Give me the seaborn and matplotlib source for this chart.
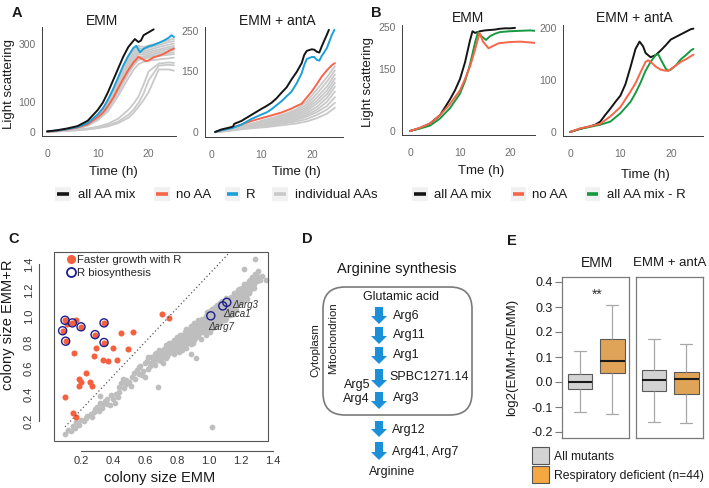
import numpy as np
import pandas as pd
import matplotlib
matplotlib.use('Agg')
import matplotlib.pyplot as plt
import seaborn as sns
from matplotlib.patches import Rectangle, FancyBboxPatch, FancyArrow
from matplotlib.lines import Line2D

# ======================= DATA =======================
TIME_TICKS = [0, 10, 20]

# ---- Panel A, EMM ----
A1_black_t = [0, 2, 4, 6, 8, 10, 11, 12, 13, 14, 15, 16, 16.8, 17.3, 18, 18.5, 19, 20, 21]
A1_black_v = [2, 6, 12, 20, 38, 75, 100, 135, 175, 215, 255, 288, 305, 315, 305, 310, 328, 338, 348]
A1_blue_t = [0, 2, 4, 6, 8, 10, 11, 12, 13, 14, 15, 16, 17, 17.6, 18.3, 19, 20, 21, 22, 23, 24, 24.5, 25]
A1_blue_v = [2, 5, 10, 17, 30, 60, 80, 110, 145, 185, 225, 258, 285, 292, 270, 282, 290, 295, 302, 310, 320, 328, 322]
A1_red_t = [0, 2, 4, 6, 8, 10, 11, 12, 13, 14, 15, 16, 17, 18, 18.5, 19.5, 20, 21, 22, 23, 24, 25]
A1_red_v = [1, 4, 9, 15, 26, 50, 65, 88, 115, 148, 180, 210, 235, 255, 250, 240, 243, 253, 258, 265, 275, 283]
A1_grey_t = [0, 2, 4, 6, 8, 10, 12, 14, 16, 17, 18, 19, 20, 22, 24, 25]
A1_grey = [
    [1, 4, 9, 16, 28, 58, 105, 178, 252, 278, 292, 288, 293, 302, 312, 316],
    [1, 4, 9, 16, 28, 56, 100, 170, 243, 270, 285, 280, 285, 295, 305, 308],
    [1, 4, 9, 15, 27, 54, 97, 163, 235, 262, 278, 274, 278, 288, 296, 300],
    [1, 4, 9, 15, 26, 52, 93, 157, 228, 255, 270, 268, 272, 280, 288, 292],
    [1, 4, 8, 15, 25, 50, 90, 152, 220, 248, 264, 262, 266, 274, 282, 286],
    [1, 4, 8, 14, 25, 48, 86, 146, 212, 240, 256, 256, 260, 268, 274, 278],
    [1, 3, 8, 14, 24, 46, 82, 140, 205, 232, 250, 252, 256, 262, 268, 270],
    [1, 3, 8, 13, 23, 44, 78, 134, 198, 225, 244, 248, 252, 258, 262, 264],
    [1, 3, 7, 12, 21, 40, 70, 122, 182, 210, 230, 238, 242, 246, 250, 252],
    [1, 3, 5, 8, 12, 18, 28, 45, 75, 95, 120, 160, 205, 232, 236, 234],
    [1, 2, 4, 6, 9, 14, 22, 35, 58, 75, 98, 130, 175, 225, 228, 226],
    [1, 2, 4, 6, 9, 13, 19, 30, 48, 64, 85, 108, 135, 212, 212, 208],
]
A1_yticks = [0, 100, 300]

# ---- Panel A, EMM + antA ----
A2_black_t = [0.8, 2, 3, 4, 4.4, 4.6, 6, 8, 10, 11, 12, 13, 14, 15, 16, 17, 18, 18.5, 19, 20, 20.5, 21, 21.5, 22, 23, 23.4]
A2_black_v = [0, 6, 9, 12, 14, 20, 27, 42, 57, 64, 72, 83, 97, 110, 130, 148, 170, 190, 200, 204, 203, 198, 196, 212, 240, 252]
A2_blue_t = [0.8, 2, 4, 6, 8, 10, 11, 12, 14, 16, 17, 18, 18.5, 19, 20, 20.5, 21, 21.5, 22, 23, 24, 24.5]
A2_blue_v = [0, 4, 9, 18, 32, 43, 48, 56, 76, 100, 120, 145, 165, 180, 185, 185, 178, 176, 188, 207, 240, 252]
A2_red_t = [0.8, 2, 4, 6, 8, 10, 12, 14, 16, 18, 19, 20, 21, 22, 23, 24, 24.6]
A2_red_v = [0, 4, 10, 18, 27, 34, 41, 48, 58, 70, 85, 100, 118, 137, 152, 165, 170]
A2_grey_t = [1, 3, 5, 7, 9, 11, 13, 15, 17, 19, 21, 23, 24.6]
A2_grey = [
    [0, 4, 10, 17, 24, 31, 38, 46, 56, 75, 104, 135, 162],
    [0, 4, 9, 16, 23, 29, 35, 43, 52, 68, 94, 124, 152],
    [0, 4, 9, 15, 21, 27, 33, 40, 48, 62, 85, 112, 142],
    [0, 4, 9, 14, 20, 25, 31, 37, 44, 57, 77, 102, 132],
    [0, 3, 8, 13, 18, 23, 28, 34, 41, 52, 70, 93, 122],
    [0, 3, 8, 12, 17, 21, 26, 31, 37, 47, 62, 84, 112],
    [0, 3, 7, 11, 15, 19, 23, 28, 33, 42, 55, 74, 100],
    [0, 3, 7, 10, 14, 17, 21, 25, 30, 38, 49, 64, 86],
    [0, 2, 6, 9, 12, 15, 18, 22, 26, 32, 42, 55, 72],
    [0, 2, 5, 8, 10, 12, 15, 18, 21, 26, 34, 45, 60],
]
A2_yticks = [0, 150, 250]

# ---- Panel B, EMM ----
B1_black_t = [0, 2, 4, 6, 8, 9, 10, 11, 12, 12.5, 13, 14, 15, 16, 17, 18, 19, 20, 21]
B1_black_v = [0, 7, 18, 38, 76, 98, 125, 165, 218, 240, 236, 240, 242, 243, 244, 246, 247, 247, 248]
B1_green_t = [0, 2, 4, 6, 8, 10, 11, 12, 13, 13.6, 14.3, 15.2, 16, 17, 18, 20, 22, 24, 25]
B1_green_v = [0, 6, 13, 30, 55, 90, 120, 160, 212, 238, 228, 219, 228, 234, 238, 240, 241, 242, 241]
B1_red_t = [0, 2, 4, 6, 8, 10, 11, 12, 13, 13.9, 14.6, 15.7, 16.5, 17.7, 20, 22, 24, 25]
B1_red_v = [0, 8, 18, 38, 65, 98, 125, 155, 195, 236, 215, 199, 204, 211, 214, 215, 213, 212]
B1_yticks = [0, 150, 250]

# ---- Panel B, EMM + antA ----
B2_black_t = [0, 2, 4, 5, 6, 7, 8, 9, 10, 11, 12, 13, 13.8, 14.5, 15, 16, 17, 18, 19, 20, 21, 22, 23, 24, 24.5]
B2_black_v = [0, 6, 11, 14, 20, 33, 45, 58, 70, 92, 125, 160, 174, 165, 152, 144, 148, 157, 167, 178, 183, 188, 193, 198, 199]
B2_green_t = [0, 2, 4, 6, 8, 10, 12, 13, 14, 15, 16, 17, 17.5, 18, 19, 19.5, 20, 21, 22, 23, 24, 24.5]
B2_green_v = [0, 6, 10, 14, 20, 36, 58, 75, 95, 118, 135, 148, 150, 140, 122, 118, 120, 128, 140, 148, 157, 160]
B2_red_t = [0, 2, 4, 6, 8, 10, 12, 13, 14, 15, 15.5, 16, 17, 18, 19, 19.5, 20, 21, 22, 23, 24, 24.5]
B2_red_v = [0, 7, 11, 16, 30, 48, 78, 94, 115, 135, 138, 135, 126, 120, 118, 118, 121, 128, 135, 140, 146, 149]
B2_yticks = [0, 100, 200]

LEG_A = ['all AA mix', 'no AA', 'R', 'individual AAs']
LEG_B = ['all AA mix', 'no AA', 'all AA mix - R']

# ---- Panel C ----
C_grey_pts = [
    (0.10, 0.10), (0.12, 0.13), (0.15, 0.16), (0.17, 0.19), (0.16, 0.15), (0.20, 0.21), (0.22, 0.20),
    (0.24, 0.24), (0.26, 0.25), (0.28, 0.27), (0.30, 0.31), (0.29, 0.29), (0.32, 0.34), (0.34, 0.33),
    (0.36, 0.33), (0.38, 0.32), (0.41, 0.34), (0.32, 0.39), (0.36, 0.37), (0.39, 0.40), (0.42, 0.41),
    (0.44, 0.46), (0.45, 0.49), (0.48, 0.48), (0.48, 0.51), (0.50, 0.50), (0.52, 0.54), (0.53, 0.57),
    (0.55, 0.59), (0.56, 0.56), (0.57, 0.62), (0.59, 0.58), (0.60, 0.54), (0.60, 0.64), (0.61, 0.66),
    (0.63, 0.62), (0.64, 0.69), (0.65, 0.66), (0.66, 0.71), (0.67, 0.72), (0.68, 0.46), (0.68, 0.67),
    (0.69, 0.74), (0.70, 0.66), (0.70, 0.70), (0.71, 0.69), (0.72, 0.75), (0.72, 0.72), (0.73, 0.78),
    (0.74, 0.70), (0.74, 0.74),
    (0.14, 0.12), (0.19, 0.17), (0.23, 0.22), (0.27, 0.23), (0.31, 0.28), (0.33, 0.30), (0.35, 0.35),
    (0.40, 0.37), (0.43, 0.38), (0.44, 0.42), (0.47, 0.45), (0.51, 0.47), (0.54, 0.52), (0.58, 0.55),
    (0.46, 0.52), (0.56, 0.61), (0.62, 0.60), (0.62, 0.69), (0.64, 0.64), (0.66, 0.63), (0.66, 0.68),
    (0.68, 0.70), (0.70, 0.73), (0.71, 0.64), (0.73, 0.68), (0.75, 0.80),
    (0.75, 0.72), (0.75, 0.77), (0.76, 0.80), (0.77, 0.74), (0.77, 0.79), (0.78, 0.71), (0.78, 0.82),
    (0.80, 0.76), (0.80, 0.80), (0.80, 0.84), (0.81, 0.73), (0.81, 0.78), (0.82, 0.82), (0.82, 0.86),
    (0.83, 0.77), (0.83, 0.80), (0.83, 0.74), (0.85, 0.80), (0.85, 0.84), (0.85, 0.88), (0.86, 0.76),
    (0.86, 0.82), (0.86, 0.90), (0.88, 0.82), (0.88, 0.86), (0.88, 0.90), (0.89, 0.79), (0.89, 0.84),
    (0.89, 0.93), (0.89, 0.71), (0.90, 0.86), (0.90, 0.88), (0.91, 0.82), (0.91, 0.91), (0.91, 0.95),
    (0.92, 0.84), (0.92, 0.88), (0.92, 0.68), (0.94, 0.87), (0.94, 0.91), (0.94, 0.95), (0.95, 0.83),
    (0.95, 0.89), (0.95, 0.93), (0.96, 0.98), (0.97, 0.90), (0.97, 0.94), (0.97, 0.97), (0.98, 0.86),
    (0.98, 0.92), (0.98, 1.00), (0.99, 0.95), (1.00, 0.93), (1.00, 0.97), (1.00, 1.01), (1.01, 0.88),
    (1.01, 0.95), (1.01, 1.04), (1.02, 0.98), (1.02, 0.155), (1.03, 0.96), (1.03, 1.00), (1.03, 1.04),
    (1.04, 0.92), (1.04, 0.99), (1.04, 1.07), (1.05, 1.02), (1.06, 0.98), (1.06, 1.03), (1.06, 1.06),
    (1.07, 0.95), (1.07, 1.01), (1.07, 1.10), (1.08, 1.04), (1.09, 1.00), (1.09, 1.05), (1.10, 1.08),
    (1.10, 0.97), (1.10, 1.12), (1.11, 1.03), (1.11, 1.06), (1.12, 1.04), (1.12, 1.09), (1.13, 1.12),
    (1.13, 1.01), (1.14, 1.07), (1.14, 1.15), (1.14, 1.10), (1.15, 1.06), (1.16, 1.12), (1.16, 1.18),
    (1.17, 1.09), (1.17, 1.14), (1.18, 1.20), (1.18, 1.11), (1.19, 1.16), (1.20, 1.13), (1.20, 1.19),
    (1.21, 1.22), (1.21, 1.16), (1.22, 1.18), (1.22, 1.25), (1.23, 1.21), (1.24, 1.17), (1.24, 1.24),
    (1.25, 1.27), (1.25, 1.21), (1.26, 1.23), (1.27, 1.30), (1.27, 1.26), (1.28, 1.22), (1.29, 1.32),
    (1.30, 1.27), (1.31, 1.35), (1.29, 1.44), (1.36, 1.28), (1.22, 1.36), (1.33, 1.31),
    (0.76, 0.75), (0.79, 0.77), (0.79, 0.74), (0.81, 0.81), (0.84, 0.78), (0.84, 0.83), (0.84, 0.86),
    (0.87, 0.80), (0.87, 0.85), (0.87, 0.88), (0.90, 0.80), (0.90, 0.92), (0.93, 0.86), (0.93, 0.90),
    (0.93, 0.93), (0.93, 0.97), (0.96, 0.88), (0.96, 0.92), (0.96, 0.95), (0.99, 0.89), (0.99, 0.92),
    (0.99, 0.99), (0.99, 1.03), (1.02, 0.91), (1.02, 0.94), (1.02, 1.02), (1.02, 1.06), (1.05, 0.94),
    (1.05, 0.97), (1.05, 1.05), (1.05, 1.09), (1.08, 0.97), (1.08, 1.00), (1.08, 1.07), (1.08, 1.12),
    (1.11, 0.99), (1.11, 1.10), (1.11, 1.14), (1.13, 1.05), (1.13, 1.08), (1.15, 1.02), (1.15, 1.10),
    (1.15, 1.14), (1.17, 1.05), (1.17, 1.18), (1.19, 1.10), (1.19, 1.13), (1.19, 1.21), (1.21, 1.12),
    (1.21, 1.19), (1.23, 1.15), (1.23, 1.25), (1.25, 1.18), (1.26, 1.28), (1.28, 1.25), (1.28, 1.29),
    (1.30, 1.31), (1.32, 1.28), (1.26, 1.20), (1.24, 1.13),
]
C_red_pts = [
    (0.085, 0.89), (0.10, 0.97), (0.104, 0.81), (0.146, 0.95), (0.20, 0.92), (0.288, 0.86),
    (0.344, 0.95), (0.344, 0.80), (0.11, 0.94), (0.169, 0.97), (0.156, 0.72), (0.294, 0.76),
    (0.283, 0.70), (0.336, 0.67), (0.371, 0.655), (0.398, 0.76), (0.423, 0.67), (0.45, 0.87),
    (0.523, 0.877), (0.496, 0.75), (0.231, 0.565), (0.188, 0.52), (0.198, 0.50), (0.188, 0.47),
    (0.256, 0.497), (0.267, 0.47), (0.10, 0.38), (0.148, 0.264), (0.169, 0.233), (0.709, 1.02),
    (0.753, 0.987),
]
C_ring_pts = [
    (0.085, 0.89), (0.10, 0.97), (0.104, 0.81), (0.146, 0.95), (0.20, 0.92), (0.288, 0.86),
    (0.344, 0.95), (0.344, 0.80), (1.012, 1.004), (1.087, 1.08), (1.112, 1.107),
]
C_gene_labels = ['Δarg3', 'Δaca1', 'Δarg7']
C_gene_xy = [(1.147, 1.09), (1.087, 1.015), (0.997, 0.92)]
C_diag_x = [0.10, 1.135]
C_diag_y = [0.155, 1.495]
C_ticks = [0.2, 0.4, 0.6, 0.8, 1.0, 1.2, 1.4]
C_ticklabels = ['0.2', '0.4', '0.6', '0.8', '1.0', '1.2', '1.4']
C_legend = ['Faster growth with R', 'R biosynthesis']

# ---- Panel D ----
D_title = 'Arginine synthesis'
D_start = 'Glutamic acid'
D_end = 'Arginine'
D_mito_steps = ['Arg6', 'Arg11', 'Arg1', 'SPBC1271.14', 'Arg3']
D_mito_side = ['Arg5', 'Arg4']
D_cyto_steps = ['Arg12', 'Arg41, Arg7']
D_compartments = ['Cytoplasm', 'Mitochondrion']

# ---- Panel E ---- (lower whisker, Q1, median, Q3, upper whisker)
E_conditions = ['EMM', 'EMM + antA']
E_groups = ['All mutants', 'Respiratory deficient (n=44)']
E_emm_all = [-0.121, -0.028, -0.001, 0.033, 0.123]
E_emm_resp = [-0.128, 0.036, 0.085, 0.173, 0.307]
E_anta_all = [-0.160, -0.036, 0.008, 0.049, 0.173]
E_anta_resp = [-0.165, -0.049, 0.012, 0.039, 0.153]
E_yticks = [-0.2, -0.1, 0.0, 0.1, 0.2, 0.3, 0.4]
E_yticklabels = ['-0.2', '-0.1', '0.0', '0.1', '0.2', '0.3', '0.4']

# ======================= STYLE =======================
sns.set_theme(style='white')
plt.rcParams['font.family'] = ['Liberation Sans', 'DejaVu Sans']
plt.rcParams['axes.unicode_minus'] = False

K_BLACK = '#151515'
K_RED = '#f7654a'
K_BLUE = '#1ba0d8'
K_GREEN = '#16993f'
K_GREY = '#c9c9c9'
AX_COL = '#3c3c3c'
TICK_LAB = '#6e6e6e'

W, H = 709, 488
fig = plt.figure(figsize=(W / 100, H / 100), dpi=100)
fig.patch.set_facecolor('white')


def add_ax(l, t, r, b):
    return fig.add_axes([l / W, 1 - b / H, (r - l) / W, (b - t) / H])


def ftext(x, y, s, **kw):
    kw.setdefault('ha', 'center')
    kw.setdefault('va', 'center')
    kw.setdefault('color', '#1a1a1a')
    fig.text(x / W, 1 - y / H, s, **kw)


def line_panel(box, xlim, ylim, yticks, series):
    ax = add_ax(*box)
    ax.set_facecolor('white')
    for t, v, c, lw in series:
        sns.lineplot(x=t, y=v, color=c, linewidth=lw, ax=ax, estimator=None)
    ax.set_xlim(*xlim)
    ax.set_ylim(*ylim)
    ax.set_xticks(TIME_TICKS)
    ax.set_yticks(yticks)
    ax.set_xlabel('')
    ax.set_ylabel('')
    for s in ['top', 'right']:
        ax.spines[s].set_visible(False)
    for s in ['left', 'bottom']:
        ax.spines[s].set_color(AX_COL)
        ax.spines[s].set_linewidth(0.7)
    ax.tick_params(axis='both', direction='out', length=3, width=0.7, color=AX_COL,
                   labelsize=7.5, labelcolor=TICK_LAB, pad=1.5)
    ax.tick_params(axis='x', pad=6.5)
    return ax


# ---------- Panel A ----------
A1_series = [(A1_grey_t, g, K_GREY, 1.3) for g in A1_grey] + [
    (A1_red_t, A1_red_v, K_RED, 1.4), (A1_blue_t, A1_blue_v, K_BLUE, 1.4),
    (A1_black_t, A1_black_v, K_BLACK, 1.4)]
line_panel((42, 27, 176, 136), (-1.0, 25.4), (-13.6, 356), A1_yticks, A1_series)

A2_series = [(A2_grey_t, g, K_GREY, 1.3) for g in A2_grey] + [
    (A2_red_t, A2_red_v, K_RED, 1.4), (A2_blue_t, A2_blue_v, K_BLUE, 1.4),
    (A2_black_t, A2_black_v, K_BLACK, 1.4)]
line_panel((205, 27, 343, 137), (-1.2, 26.2), (-12.4, 259), A2_yticks, A2_series)

# ---------- Panel B ----------
B1_series = [(B1_black_t, B1_black_v, K_BLACK, 1.4), (B1_green_t, B1_green_v, K_GREEN, 1.4),
             (B1_red_t, B1_red_v, K_RED, 1.4)]
line_panel((402, 25, 535, 135), (-1.6, 25.0), (-9.6, 255), B1_yticks, B1_series)

B2_series = [(B2_black_t, B2_black_v, K_BLACK, 1.4), (B2_green_t, B2_green_v, K_GREEN, 1.4),
             (B2_red_t, B2_red_v, K_RED, 1.4)]
line_panel((563, 25, 703, 136), (-1.4, 26.4), (-7.7, 206), B2_yticks, B2_series)

# titles / labels A, B
ftext(102, 21, E_conditions[0], fontsize=10)
ftext(277, 21, E_conditions[1], fontsize=10)
ftext(468, 18, E_conditions[0], fontsize=10)
ftext(634, 18, E_conditions[1], fontsize=10)
ftext(9, 84, 'Light scattering', fontsize=9.5, rotation=90)
ftext(368, 82, 'Light scattering', fontsize=9.5, rotation=90)
ftext(113, 172, 'Time (h)', fontsize=9.5)
ftext(296, 172, 'Time (h)', fontsize=9.5)
ftext(481, 171, 'Tme (h)', fontsize=9.5)
ftext(645, 175, 'Time (h)', fontsize=9.5)


def legend_key(x0, x1, y, color):
    fig.add_artist(Rectangle(((x0 - 2) / W, 1 - (y + 7) / H), (x1 - x0 + 4) / W, 14 / H,
                             transform=fig.transFigure, facecolor='#f1f1f1', edgecolor='none'))
    fig.add_artist(Line2D([x0 / W, x1 / W], [1 - y / H, 1 - y / H], transform=fig.transFigure,
                          color=color, linewidth=2.6, solid_capstyle='butt'))


legend_key(57, 69, 194, K_BLACK); ftext(78, 195, LEG_A[0], fontsize=9.5, ha='left')
legend_key(156, 168, 194, K_RED); ftext(176, 195, LEG_A[1], fontsize=9.5, ha='left')
legend_key(227, 238, 194, K_BLUE); ftext(246, 195, LEG_A[2], fontsize=9.5, ha='left')
legend_key(274, 286, 194, K_GREY); ftext(295, 195, LEG_A[3], fontsize=9.5, ha='left')
legend_key(414, 426, 194, K_BLACK); ftext(434, 195, LEG_B[0], fontsize=9.5, ha='left')
legend_key(513, 524, 194, K_RED); ftext(532, 195, LEG_B[1], fontsize=9.5, ha='left')
legend_key(587, 598, 194, K_GREEN); ftext(607, 195, LEG_B[2], fontsize=9.5, ha='left')

# ---------- Panel C ----------
axc = add_ax(54, 252, 276, 441)
axc.set_facecolor('white')
gx = [p[0] for p in C_grey_pts]; gy = [p[1] for p in C_grey_pts]
rx = [p[0] for p in C_red_pts]; ry = [p[1] for p in C_red_pts]
bx = [p[0] for p in C_ring_pts]; by = [p[1] for p in C_ring_pts]
sns.lineplot(x=C_diag_x, y=C_diag_y, ax=axc, color='#555555', linestyle=(0, (1, 2)), linewidth=0.9)
sns.scatterplot(x=gx, y=gy, ax=axc, color='#bebebe', s=17, linewidth=0)
sns.scatterplot(x=rx, y=ry, ax=axc, color='#f5603f', s=19, linewidth=0)
ring = sns.scatterplot(x=bx, y=by, ax=axc, color='#1e1e8c', s=34, linewidth=1.0)
ring.collections[-1].set_facecolor('none')
ring.collections[-1].set_edgecolor('#1e1e8c')
for lab, (tx, ty) in zip(C_gene_labels, C_gene_xy):
    axc.text(tx, ty, lab, fontsize=7, style='italic', color='#333333', ha='left', va='center')
axc.set_xlim(0.031, 1.42)
axc.set_ylim(0.047, 1.492)
axc.set_xticks(C_ticks); axc.set_xticklabels(C_ticklabels)
axc.set_yticks(C_ticks); axc.set_yticklabels(C_ticklabels)
for s in ['top', 'right']:
    axc.spines[s].set_visible(False)
axc.spines['bottom'].set_position(('outward', 7))
axc.spines['left'].set_position(('outward', 11))
axc.spines['bottom'].set_bounds(0.2, 1.4)
axc.spines['left'].set_bounds(0.2, 1.4)
for s in ['left', 'bottom']:
    axc.spines[s].set_color('#555555'); axc.spines[s].set_linewidth(0.8)
axc.tick_params(axis='both', direction='out', length=3, width=0.8, color='#555555',
                labelsize=8, labelcolor='#333333', pad=1)
axc.tick_params(axis='y', labelrotation=90, pad=0.5)
for lab in axc.get_yticklabels():
    lab.set_va('center')
axc.add_patch(Rectangle((0, 0), (268 - 54) / (276 - 54), 1, transform=axc.transAxes, fill=False,
                        edgecolor='#555555', linewidth=0.8, clip_on=False))
axc.set_xlabel(''); axc.set_ylabel('')
ftext(160, 478, 'colony size EMM', fontsize=10.5)
ftext(8, 325, 'colony size EMM+R', fontsize=10.5, rotation=90)
hdl = [Line2D([], [], marker='o', linestyle='none', markersize=6.5, markerfacecolor='#f5603f',
              markeredgecolor='none'),
       Line2D([], [], marker='o', linestyle='none', markersize=6.5, markerfacecolor='none',
              markeredgecolor='#1e1e8c', markeredgewidth=1.3)]
axc.legend(hdl, C_legend, loc='upper left', bbox_to_anchor=(66 / W, 1 - 255 / H),
           bbox_transform=fig.transFigure, frameon=False, fontsize=8.2, handlelength=0.8,
           handletextpad=0.2, borderpad=0, borderaxespad=0, labelspacing=0.25)

# ---------- Panel D ----------
axd = add_ax(300, 240, 500, 488)
axd.set_xlim(300, 500); axd.set_ylim(488, 240); axd.axis('off')
ARROW = '#1c8fd9'
axd.add_patch(FancyBboxPatch((323, 287), 149, 128, boxstyle='round,pad=0,rounding_size=22',
                             facecolor='none', edgecolor='#7a7a7a', linewidth=1.2))
axd.text(397, 269, D_title, fontsize=10.5, ha='center', va='center', color='#1a1a1a')
axd.text(401, 297, D_start, fontsize=9, ha='center', va='center', color='#1a1a1a')
arrow_spans = [(307, 324), (327, 344), (347, 364), (369, 388), (392, 409), (421, 437), (442, 460)]
for top, bot in arrow_spans:
    axd.add_patch(FancyArrow(379, top, 0, bot - top, width=8, head_width=16, head_length=8,
                             length_includes_head=True, color=ARROW, linewidth=0))
for lab, yy in zip(D_mito_steps, [316, 335, 355, 377, 398]):
    axd.text(393 if lab != 'SPBC1271.14' else 389, yy, lab, fontsize=9, ha='left', va='center',
             color='#1a1a1a')
for lab, yy in zip(D_mito_side, [385, 399]):
    axd.text(370, yy, lab, fontsize=9, ha='right', va='center', color='#1a1a1a')
for lab, yy in zip(D_cyto_steps, [430, 452]):
    axd.text(392, yy, lab, fontsize=9, ha='left', va='center', color='#1a1a1a')
axd.text(392, 472, D_end, fontsize=9, ha='center', va='center', color='#1a1a1a')
axd.text(315, 350, D_compartments[0], fontsize=8.2, rotation=90, ha='center', va='center', color='#1a1a1a')
axd.text(333, 338, D_compartments[1], fontsize=8.2, rotation=90, ha='center', va='center', color='#1a1a1a')

# ---------- Panel E ----------
E_pal = {E_groups[0]: '#d3d3d3', E_groups[1]: '#f5a742'}
E_sets = [(E_emm_all, E_emm_resp), (E_anta_all, E_anta_resp)]
E_boxes = [(562, 277, 629, 438), (636, 277, 703, 438)]
for i, ((all_v, resp_v), box) in enumerate(zip(E_sets, E_boxes)):
    ax = add_ax(*box)
    ax.set_facecolor('white')
    df = pd.DataFrame({'group': [E_groups[0]] * 5 + [E_groups[1]] * 5,
                       'value': list(all_v) + list(resp_v)})
    sns.boxplot(data=df, x='group', y='value', hue='group', order=E_groups, hue_order=E_groups,
                palette=E_pal, width=0.78, whis=np.inf, legend=False, ax=ax,
                linecolor='#5a5a5a', linewidth=0.8,
                medianprops=dict(color='#1a1a1a', linewidth=1.5),
                whiskerprops=dict(color='#a8a8a8', linewidth=0.9),
                capprops=dict(color='#a8a8a8', linewidth=0.9))
    ax.set_xlim(-0.5625, 1.53)
    ax.set_ylim(-0.224, 0.42)
    ax.set_xticks([])
    ax.set_xlabel(''); ax.set_ylabel('')
    for s in ax.spines.values():
        s.set_visible(True); s.set_color('#7a7a7a'); s.set_linewidth(0.9)
    if i == 0:
        ax.set_yticks(E_yticks); ax.set_yticklabels(E_yticklabels)
        ax.tick_params(axis='y', direction='out', length=5, width=0.8, color='#7a7a7a',
                       labelsize=9, labelcolor='#1a1a1a', pad=1.5, left=True)
        ax.text(0.53, 0.348, '**', fontsize=10, ha='center', va='center', color='#333333')
    else:
        ax.set_yticks([])
ftext(597, 263, E_conditions[0], fontsize=10)
ftext(670, 263, E_conditions[1], fontsize=9.5)
ftext(512, 357, 'log2(EMM+R/EMM)', fontsize=9.5, rotation=90)
for (c, lab), yy in zip([('#d3d3d3', E_groups[0]), ('#f5a742', E_groups[1])], [447, 466]):
    fig.add_artist(Rectangle((532 / W, 1 - (yy + 17) / H), 17 / W, 17 / H, transform=fig.transFigure,
                             facecolor=c, edgecolor='#555555', linewidth=0.8))
    ftext(554, yy + 10, lab, fontsize=8.7, ha='left')

# ---------- panel letters ----------
for letter, (x, y) in zip('ABCDE', [(17, 13), (376, 13), (14, 239), (307, 239), (512, 241)]):
    ftext(x, y, letter, fontsize=10.5, fontweight='bold')

fig.savefig('out.png', dpi=100)
